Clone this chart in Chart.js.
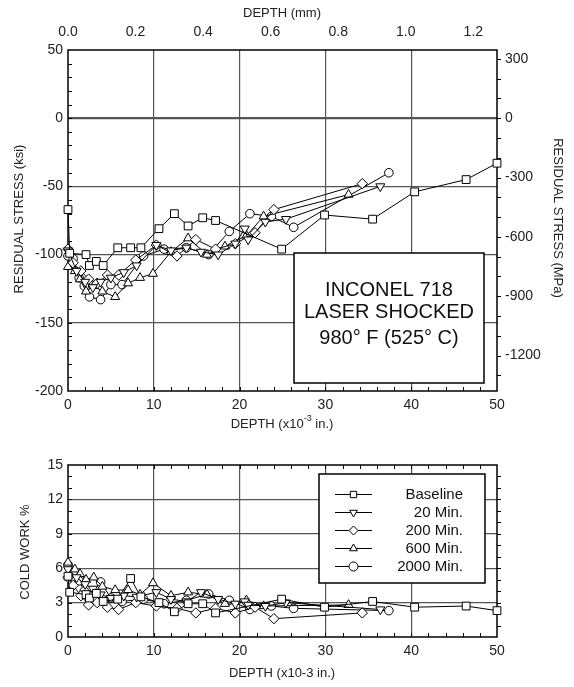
<!DOCTYPE html>
<html><head><meta charset="utf-8">
<script src="https://cdn.jsdelivr.net/npm/chart.js@4.4.0/dist/chart.umd.min.js"></script>
<style>
html,body{margin:0;padding:0;background:#fff;}
#w{position:relative;width:574px;height:687px;overflow:hidden;}
#c1{position:absolute;left:0;top:0;}
#c2{position:absolute;left:0;top:440px;}
</style></head><body>
<div id="w"><canvas id="c1" width="574" height="440"></canvas><canvas id="c2" width="574" height="247"></canvas></div>
<script>
// ---------- data ----------
const SERIES = ['Baseline', '20 Min.', '200 Min.', '600 Min.', '2000 Min.'];
const DEPTH_TICKS = [0, 10, 20, 30, 40, 50];
const KSI_TICKS = [50, 0, -50, -100, -150, -200];
const MPA_TICKS = [300, 0, -300, -600, -900, -1200];
const MM_TICKS = [0, 0.2, 0.4, 0.6, 0.8, 1.0, 1.2];
const CW_TICKS = [0, 3, 6, 9, 12, 15];

const baseDepth = [0, 0.2, 2.1, 2.5, 3.3, 4.1, 5.8, 7.3, 8.5, 10.6, 12.4, 14.0, 15.7, 17.2, 24.9, 29.9, 35.5, 40.4, 46.4, 50.0];
const baseStress = [-67, -99, -100, -108, -105, -108, -95, -95, -95, -81, -70, -79, -73, -75, -96, -71, -74, -54, -45, -33];
const baseCW = [5.3, 3.9, 3.7, 3.4, 3.8, 3.1, 3.3, 5.1, 3.5, 3.0, 2.2, 2.9, 2.9, 2.1, 3.3, 2.6, 3.1, 2.6, 2.7, 2.3];

const m20Depth = [0, 1.0, 2.0, 2.9, 3.8, 5.0, 6.5, 8.0, 10.3, 12.0, 13.8, 15.5, 17.5, 19.5, 20.6, 21.0, 23.0, 25.4, 36.4];
const m20Stress = [-97, -112, -120, -124, -120, -117, -113, -108, -93, -97, -95, -98, -100, -92, -81, -89, -76, -74, -50];
const m20CW = [5.9, 5.2, 4.6, 4.2, 3.7, 3.4, 3.6, 3.5, 3.9, 3.3, 3.1, 3.9, 3.3, 2.9, 3.1, 2.8, 2.7, 3.0, 2.4];

const m200Depth = [0, 0.6, 1.5, 2.4, 3.4, 4.6, 5.9, 7.9, 10.3, 12.7, 14.9, 17.2, 19.5, 21.8, 24.0, 34.3];
const m200Stress = [-96, -106, -112, -118, -121, -115, -115, -104, -93, -101, -89, -96, -92, -84, -67, -48];
const m200CW = [5.2, 4.5, 3.6, 2.8, 3.0, 2.6, 2.4, 3.0, 2.7, 2.5, 2.1, 2.5, 2.1, 2.6, 1.6, 2.1];

const m600Depth = [0, 0.8, 1.4, 2.1, 3.0, 4.0, 5.5, 7.0, 8.4, 9.9, 12.0, 14.0, 16.2, 18.3, 20.8, 22.8, 32.7];
const m600Stress = [-109, -112, -118, -127, -123, -127, -131, -121, -117, -114, -98, -88, -100, -94, -86, -72, -56];
const m600CW = [6.5, 5.9, 5.5, 5.0, 5.2, 4.4, 4.1, 4.1, 3.7, 4.7, 3.6, 3.9, 3.7, 2.9, 3.2, 2.7, 2.8];

const m2000Depth = [0, 0.6, 1.3, 1.9, 2.5, 3.8, 5.0, 6.3, 8.8, 11.2, 13.8, 16.4, 18.8, 21.2, 23.7, 26.3, 37.4];
const m2000Stress = [-101, -103, -117, -123, -131, -133, -122, -122, -101, -96, -95, -100, -83, -70, -72, -80, -40];
const m2000CW = [6.3, 5.6, 4.9, 4.0, 3.6, 4.8, 3.4, 3.1, 3.3, 2.9, 3.2, 3.75, 3.2, 2.4, 2.7, 2.5, 2.3];

// ---------- styling ----------
const FONT = "'Liberation Sans', Arial, sans-serif";
Chart.defaults.font.family = FONT;
Chart.defaults.color = '#222';
const KSI_TO_MPA = 6.895;
const MIL_TO_MM = 0.0254;

const MARKERS = [
  {style: 'rect', rot: 0, r: 5.5},
  {style: 'triangle', rot: 180, r: 5.2},
  {style: 'rectRot', rot: 0, r: 5.2},
  {style: 'triangle', rot: 0, r: 5.2},
  {style: 'circle', rot: 0, r: 4.3}
];

function mk(i, xs, ys) {
  const m = MARKERS[i];
  return {
    label: SERIES[i],
    data: xs.map((x, k) => ({x: x, y: ys[k]})),
    borderColor: '#000', borderWidth: 1, tension: 0, fill: false,
    pointStyle: m.style, pointRotation: m.rot, pointRadius: m.r, pointHoverRadius: m.r,
    pointBackgroundColor: '#fff', pointBorderColor: '#000', pointBorderWidth: 1,
    clip: false
  };
}

const setTicks = arr => s => { s.ticks = arr.map(v => ({value: v})); };
const fixW = w => s => { s.width = w; };
const fixH = h => s => { s.height = h; };
const gridCol = (lo, hi) => c => (c.tick && (c.tick.value === lo || c.tick.value === hi)) ? 'rgba(0,0,0,0)' : '#555';

function tickLinesY(ctx, scale, vals, x, dir, len) {
  vals.forEach(v => {
    const y = Math.round(scale.getPixelForValue(v)) + 0.5;
    ctx.beginPath(); ctx.moveTo(x, y); ctx.lineTo(x + dir * len, y); ctx.stroke();
  });
}
function tickLinesX(ctx, scale, vals, y, dir, len) {
  vals.forEach(v => {
    const x = Math.round(scale.getPixelForValue(v)) + 0.5;
    ctx.beginPath(); ctx.moveTo(x, y); ctx.lineTo(x, y + dir * len); ctx.stroke();
  });
}
function range(a, b, s) { const r = []; for (let v = a; v <= b + 1e-9; v += s) r.push(+v.toFixed(6)); return r; }

function drawFrame(chart) {
  const {ctx, chartArea: a} = chart;
  ctx.save();
  ctx.strokeStyle = '#000'; ctx.lineWidth = 1.5;
  ctx.strokeRect(a.left, a.top, a.right - a.left, a.bottom - a.top);
  ctx.restore();
}

function rotText(ctx, txt, x, y, ang, font) {
  ctx.save(); ctx.translate(x, y); ctx.rotate(ang);
  ctx.font = font; ctx.textAlign = 'center'; ctx.textBaseline = 'middle';
  ctx.fillText(txt, 0, 0); ctx.restore();
}

// ---------- top chart ----------
const topPlugin = {
  id: 'topDecor',
  beforeDatasetsDraw(chart) {
    const ctx = chart.ctx, a = chart.chartArea;
    drawFrame(chart);
    ctx.save(); ctx.strokeStyle = '#000'; ctx.lineWidth = 1;
    tickLinesY(ctx, chart.scales.y, range(-190, 40, 10), a.left, 1, 4);
    tickLinesX(ctx, chart.scales.x, range(2, 48, 2), a.bottom, -1, 4);
    tickLinesY(ctx, chart.scales.y2, range(-1300, 300, 100), a.right, 1, 4);
    ctx.restore();
  },
  afterDatasetsDraw(chart) {
    const ctx = chart.ctx;
    ctx.save();
    // annotation box
    ctx.fillStyle = '#fff'; ctx.fillRect(294, 253, 190, 130);
    ctx.strokeStyle = '#000'; ctx.lineWidth = 1.5; ctx.strokeRect(294, 253, 190, 130);
    ctx.fillStyle = '#111'; ctx.font = '20px ' + FONT; ctx.textAlign = 'center'; ctx.textBaseline = 'middle';
    ctx.fillText('INCONEL 718', 389, 290);
    ctx.fillText('LASER SHOCKED', 389, 312);
    ctx.fillText('980\u00B0 F (525\u00B0 C)', 389, 338);
    // titles
    ctx.font = '13px ' + FONT; ctx.fillStyle = '#222';
    ctx.fillText('DEPTH (mm)', 282, 13);
    rotText(ctx, 'RESIDUAL STRESS (ksi)', 19, 219, -Math.PI / 2, '13px ' + FONT);
    rotText(ctx, 'RESIDUAL STRESS (MPa)', 558, 218, Math.PI / 2, '13px ' + FONT);
    // bottom title with superscript
    const p1 = 'DEPTH (x10', sup = '-3', p2 = ' in.)';
    ctx.font = '13px ' + FONT; const w1 = ctx.measureText(p1).width, w3 = ctx.measureText(p2).width;
    ctx.font = '9px ' + FONT; const w2 = ctx.measureText(sup).width;
    let x0 = 282 - (w1 + w2 + w3) / 2;
    ctx.textAlign = 'left';
    ctx.font = '13px ' + FONT; ctx.fillText(p1, x0, 424);
    ctx.font = '9px ' + FONT; ctx.fillText(sup, x0 + w1, 419);
    ctx.font = '13px ' + FONT; ctx.fillText(p2, x0 + w1 + w2, 424);
    ctx.restore();
  }
};

new Chart(document.getElementById('c1'), {
  type: 'line',
  data: {datasets: [
    mk(0, baseDepth, baseStress), mk(1, m20Depth, m20Stress), mk(2, m200Depth, m200Stress),
    mk(3, m600Depth, m600Stress), mk(4, m2000Depth, m2000Stress)
  ]},
  options: {
    responsive: false, animation: false, devicePixelRatio: 1,
    layout: {padding: 0},
    plugins: {legend: {display: false}, tooltip: {enabled: false}},
    scales: {
      x: {type: 'linear', position: 'bottom', min: 0, max: 50, afterBuildTicks: setTicks(DEPTH_TICKS),
          ticks: {font: {size: 14}, padding: 6, autoSkip: false, maxRotation: 0, callback: v => String(v)},
          grid: {color: gridCol(0, 50), lineWidth: 1.2, drawTicks: false}, border: {display: false}, afterFit: fixH(49)},
      x2: {type: 'linear', position: 'top', min: 0, max: 50 * MIL_TO_MM, afterBuildTicks: setTicks(MM_TICKS),
          ticks: {font: {size: 14}, padding: 9, autoSkip: false, maxRotation: 0, callback: v => v.toFixed(1)},
          grid: {display: false, drawTicks: false}, border: {display: false}, afterFit: fixH(50)},
      y: {type: 'linear', position: 'left', min: -200, max: 50, afterBuildTicks: setTicks(KSI_TICKS),
          ticks: {font: {size: 14}, padding: 5, autoSkip: false, callback: v => String(v)},
          grid: {color: gridCol(50, -200), lineWidth: c => (c.tick && c.tick.value === 0) ? 2.2 : 1.2, drawTicks: false},
          border: {display: false}, afterFit: fixW(68)},
      y2: {type: 'linear', position: 'right', min: -200 * KSI_TO_MPA, max: 50 * KSI_TO_MPA, afterBuildTicks: setTicks(MPA_TICKS),
          ticks: {font: {size: 14}, padding: 8, autoSkip: false, callback: v => String(v)},
          grid: {display: false, drawTicks: false}, border: {display: false}, afterFit: fixW(77)}
    }
  },
  plugins: [topPlugin]
});

// ---------- bottom chart ----------
function drawMarker(ctx, m, x, y, r) {
  ctx.beginPath();
  if (m.style === 'rect') { const s = Math.SQRT1_2 * r; ctx.rect(x - s, y - s, 2 * s, 2 * s); }
  else if (m.style === 'rectRot') { ctx.moveTo(x, y - r); ctx.lineTo(x + r, y); ctx.lineTo(x, y + r); ctx.lineTo(x - r, y); ctx.closePath(); }
  else if (m.style === 'circle') { ctx.arc(x, y, r, 0, Math.PI * 2); }
  else {
    const d = m.rot === 180 ? -1 : 1; const h = r * Math.sqrt(3) / 2;
    ctx.moveTo(x, y - d * r); ctx.lineTo(x + h, y + d * r / 2); ctx.lineTo(x - h, y + d * r / 2); ctx.closePath();
  }
  ctx.fillStyle = '#fff'; ctx.fill(); ctx.strokeStyle = '#000'; ctx.lineWidth = 1; ctx.stroke();
}

const botPlugin = {
  id: 'botDecor',
  beforeDatasetsDraw(chart) {
    const ctx = chart.ctx, a = chart.chartArea;
    drawFrame(chart);
    ctx.save(); ctx.strokeStyle = '#000'; ctx.lineWidth = 1;
    tickLinesY(ctx, chart.scales.y, range(1, 14, 1), a.left, 1, 4);
    tickLinesX(ctx, chart.scales.x, range(2, 48, 2), a.bottom, -1, 4);
    tickLinesX(ctx, chart.scales.x, range(2, 48, 2), a.top, 1, 4);
    tickLinesY(ctx, chart.scales.y, range(1, 14, 1), a.right, 1, 4);
    ctx.restore();
  },
  afterDatasetsDraw(chart) {
    const ctx = chart.ctx;
    ctx.save();
    // legend
    ctx.fillStyle = '#fff'; ctx.fillRect(319, 34, 166, 109);
    ctx.strokeStyle = '#000'; ctx.lineWidth = 1.5; ctx.strokeRect(319, 34, 166, 109);
    chart.data.datasets.forEach((ds, i) => {
      const y = 54 + i * 18;
      ctx.strokeStyle = '#000'; ctx.lineWidth = 1;
      ctx.beginPath(); ctx.moveTo(335, y + 0.5); ctx.lineTo(372, y + 0.5); ctx.stroke();
      drawMarker(ctx, MARKERS[i], 353.5, y + 0.5, 4.5);
      ctx.fillStyle = '#111'; ctx.font = '15px ' + FONT; ctx.textAlign = 'right'; ctx.textBaseline = 'middle';
      ctx.fillText(ds.label, 463, y + 1);
    });
    // titles
    ctx.fillStyle = '#222'; ctx.textAlign = 'center'; ctx.textBaseline = 'middle';
    ctx.font = '13px ' + FONT;
    ctx.fillText('DEPTH (x10-3 in.)', 282, 233);
    rotText(ctx, 'COLD WORK %', 25, 112, -Math.PI / 2, '13px ' + FONT);
    ctx.restore();
  }
};

new Chart(document.getElementById('c2'), {
  type: 'line',
  data: {datasets: [
    mk(0, baseDepth, baseCW), mk(1, m20Depth, m20CW), mk(2, m200Depth, m200CW),
    mk(3, m600Depth, m600CW), mk(4, m2000Depth, m2000CW)
  ]},
  options: {
    responsive: false, animation: false, devicePixelRatio: 1,
    layout: {padding: {top: 25, right: 77, left: 0, bottom: 0}},
    plugins: {legend: {display: false}, tooltip: {enabled: false}},
    scales: {
      x: {type: 'linear', position: 'bottom', min: 0, max: 50, afterBuildTicks: setTicks(DEPTH_TICKS),
          ticks: {font: {size: 14}, padding: 6, autoSkip: false, maxRotation: 0, callback: v => String(v)},
          grid: {color: gridCol(0, 50), lineWidth: 1.2, drawTicks: false}, border: {display: false}, afterFit: fixH(50)},
      y: {type: 'linear', position: 'left', min: 0, max: 15, afterBuildTicks: setTicks(CW_TICKS),
          ticks: {font: {size: 14}, padding: 5, autoSkip: false, callback: v => String(v)},
          grid: {color: gridCol(0, 15), lineWidth: 1.2, drawTicks: false}, border: {display: false}, afterFit: fixW(68)}
    }
  },
  plugins: [botPlugin]
});
</script>
</body></html>
